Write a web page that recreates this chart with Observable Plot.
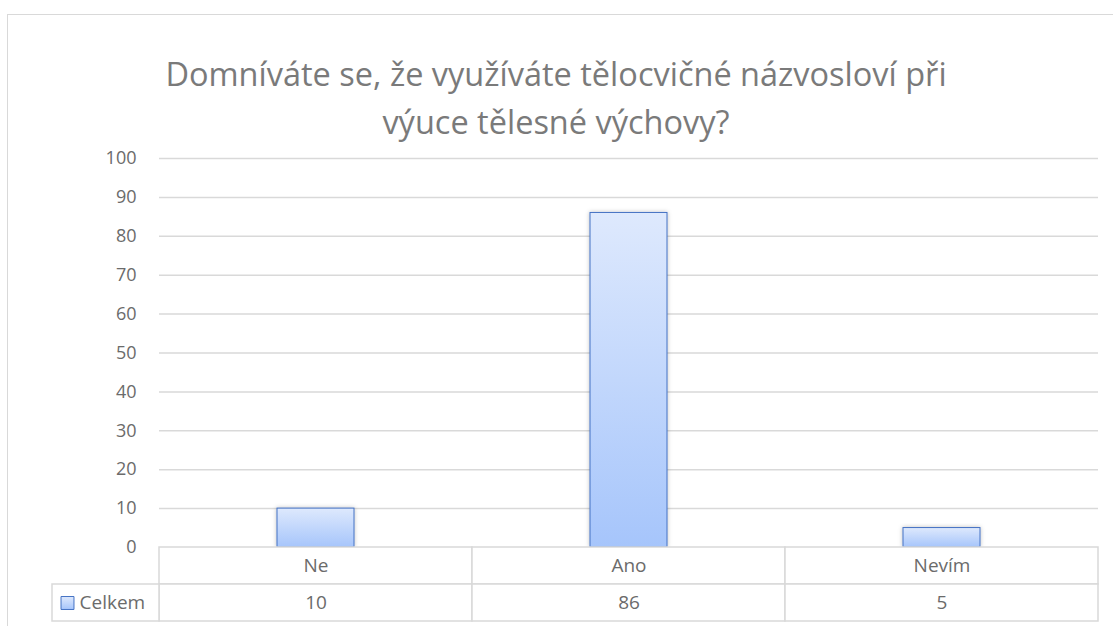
<!DOCTYPE html>
<html>
<head>
<meta charset="utf-8">
<script src="https://cdn.jsdelivr.net/npm/d3@7"></script>
<script src="https://cdn.jsdelivr.net/npm/@observablehq/plot@0.6"></script>
<style>
  html, body { margin: 0; padding: 0; background: #fff; }
  #wrap { position: relative; width: 1113px; height: 626px; overflow: hidden; font-family: "Open Sans", Lato, sans-serif; }
  #frame { position: absolute; left: 7px; top: 14px; width: 1200px; height: 700px; border: 1.5px solid #d9d9d9; box-sizing: border-box; }
  #title { position: absolute; left: 7px; width: 1098px; top: 50px; text-align: center; font-size: 32.5px; line-height: 48px; color: #7a7a7a; }
  #bars, #table { position: absolute; left: 0; }
  #bars { top: 140px; }
  #table { top: 540px; }
  svg { overflow: visible; }
</style>
</head>
<body>
<div id="wrap">
  <div id="frame"></div>
  <div id="title"></div>
  <div id="bars"></div>
  <div id="table"></div>
</div>
<script>
const titleLines = ["Domníváte se, že využíváte tělocvičné názvosloví při", "výuce tělesné výchovy?"];
const categories = ["Ne", "Ano", "Nevím"];
const values = [10, 86, 5];
const seriesName = "Celkem";
const yTicks = [0, 10, 20, 30, 40, 50, 60, 70, 80, 90, 100];

document.getElementById("title").innerHTML = titleLines.join("<br>");

const data = categories.map((c, i) => ({category: c, value: values[i]}));

const W = 1113, ML = 159, MR = 15;
const step = (W - ML - MR) / categories.length;
const font = "'Open Sans', Lato, sans-serif";
const textColor = "#6b6b6b";
const gridColor = "#d9d9d9";

function defs() {
  const ns = "http://www.w3.org/2000/svg";
  const d = document.createElementNS(ns, "defs");
  const g = document.createElementNS(ns, "linearGradient");
  g.setAttribute("id", "barGrad");
  g.setAttribute("x1", "0"); g.setAttribute("y1", "0");
  g.setAttribute("x2", "0"); g.setAttribute("y2", "1");
  [["0%", "#dee9fd"], ["100%", "#a6c5fb"]].forEach(([o, c]) => {
    const s = document.createElementNS(ns, "stop");
    s.setAttribute("offset", o); s.setAttribute("stop-color", c);
    g.appendChild(s);
  });
  d.appendChild(g);
  const f = document.createElementNS(ns, "filter");
  f.setAttribute("id", "barShadow");
  f.setAttribute("x", "-20%"); f.setAttribute("y", "-20%");
  f.setAttribute("width", "140%"); f.setAttribute("height", "140%");
  const ds = document.createElementNS(ns, "feDropShadow");
  ds.setAttribute("dx", "0"); ds.setAttribute("dy", "0");
  ds.setAttribute("stdDeviation", "2");
  ds.setAttribute("flood-color", "#000"); ds.setAttribute("flood-opacity", "0.25");
  f.appendChild(ds);
  d.appendChild(f);
  return d;
}

const bars = Plot.plot({
  width: W,
  height: 409,
  marginLeft: ML,
  marginRight: MR,
  marginTop: 18,
  marginBottom: 2,
  style: {fontFamily: font, background: "transparent", overflow: "visible"},
  x: {domain: categories, paddingInner: 0.755, paddingOuter: 0.3775, axis: null},
  y: {domain: [0, 100]},
  marks: [
    defs,
    Plot.gridY(yTicks.filter(t => t > 0), {stroke: gridColor, strokeOpacity: 1, strokeWidth: 1.5}),
    Plot.axisY(yTicks, {tickSize: 0, tickPadding: 23, fontSize: 18, fill: textColor, label: null}),
    Plot.barY(data, {x: "category", y: "value", fill: "url(#barGrad)", stroke: "#4472c4", strokeWidth: 1})
  ]
});
bars.querySelectorAll("rect").forEach(r => { if (r.getAttribute("fill") === "url(#barGrad)" || (r.parentNode && r.parentNode.getAttribute("fill") === "url(#barGrad)")) r.setAttribute("filter", "url(#barShadow)"); });
document.getElementById("bars").appendChild(bars);

const rows = ["cat", "val"];
const tableData = [];
categories.forEach((c, i) => {
  tableData.push({category: c, row: "cat", text: c});
  tableData.push({category: c, row: "val", text: String(values[i])});
});

const table = Plot.plot({
  width: W,
  height: 86,
  marginLeft: ML,
  marginRight: MR,
  marginTop: 7,
  marginBottom: 5,
  style: {fontFamily: font, background: "transparent", overflow: "visible"},
  x: {domain: categories, padding: 0, axis: null},
  y: {domain: rows, padding: 0, axis: null},
  marks: [
    defs,
    Plot.cell(tableData, {x: "category", y: "row", fill: "white", stroke: gridColor, strokeWidth: 1.5}),
    Plot.cell([{row: "val"}], {x: () => categories[0], y: "row", fill: "white", stroke: gridColor, strokeWidth: 1.5, dx: -107, insetRight: step - 107}),
    Plot.text(tableData, {x: "category", y: "row", text: "text", fontSize: 19, fill: textColor}),
    Plot.dot([{row: "val"}], {y: "row", frameAnchor: "left", dx: -92, symbol: "square", r: 7.3, fill: "url(#barGrad)", stroke: "#4472c4", strokeWidth: 1}),
    Plot.text([{row: "val"}], {y: "row", frameAnchor: "left", dx: -80, text: () => seriesName, textAnchor: "start", fontSize: 19, fill: textColor})
  ]
});
document.getElementById("table").appendChild(table);
</script>
</body>
</html>
